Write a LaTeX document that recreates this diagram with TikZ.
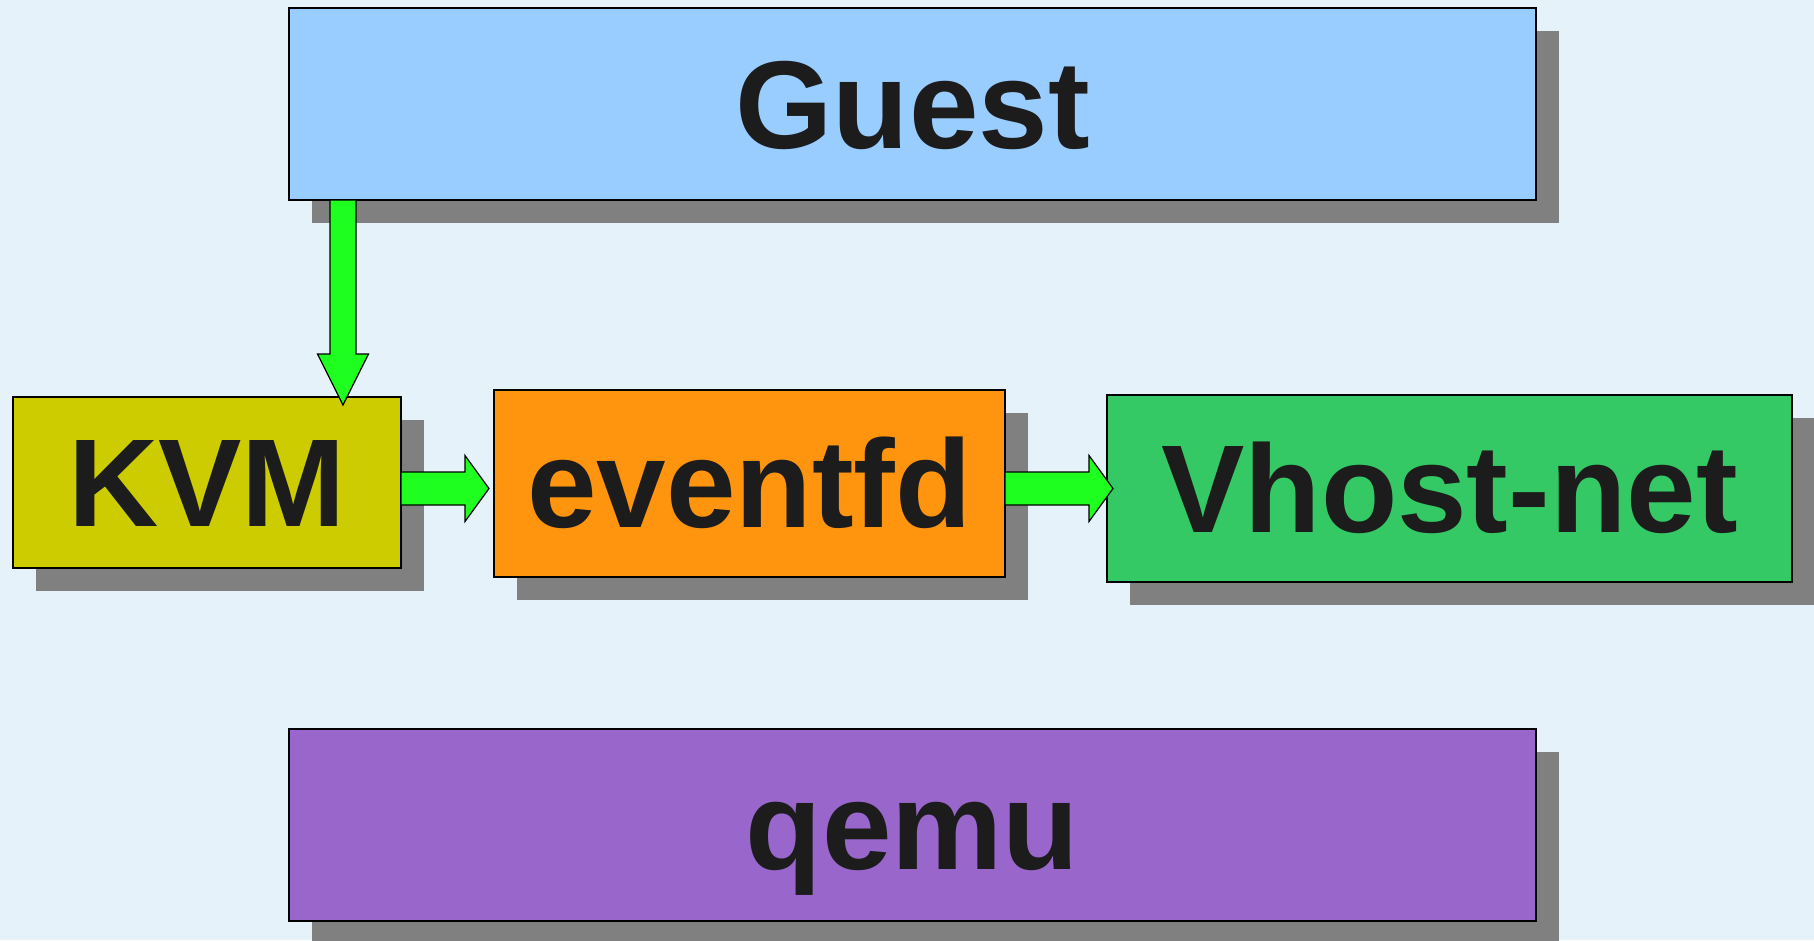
\documentclass[tikz,border=0pt]{standalone}
\usepackage{fontspec}
\setmainfont{Liberation Sans}
\usetikzlibrary{shadows,calc}

\definecolor{fond}{HTML}{E6F2FA}
\definecolor{ombre}{HTML}{808080}
\definecolor{texte}{HTML}{1C1C1C}
\definecolor{bleuguest}{HTML}{99CCFF}
\definecolor{jaunekvm}{HTML}{CCCC00}
\definecolor{orangefd}{HTML}{FF950E}
\definecolor{vertvhost}{HTML}{35C966}
\definecolor{violetqemu}{HTML}{9966CC}
\definecolor{vertfleche}{HTML}{1FFF1F}

\begin{document}
\begin{tikzpicture}
  [x=1pt, y=-1pt,
  boite/.style={
    draw=black,
    line width=1.2pt,
    rectangle,
    inner sep=0pt,
    outer sep=0pt,
    text=texte,
    text height=88pt,
    text depth=0pt,
    font=\fontsize{125}{150}\selectfont\bfseries,
    drop shadow={shadow xshift=23pt, shadow yshift=-23pt, opacity=1, fill=ombre, draw=none}},
  flechebas/.style={
    draw=black,
    line width=1.2pt,
    fill=vertfleche,
    to path={let \p1=(\tikztostart), \p2=(\tikztotarget) in
      (\x1-13pt,\y1) -- (\x1-13pt,\y2+51pt) -- (\x1-25.5pt,\y2+51pt) -- (\x1,\y2)
      -- (\x1+25.5pt,\y2+51pt) -- (\x1+13pt,\y2+51pt) -- (\x1+13pt,\y1) -- cycle}},
  flechedroite/.style={
    draw=black,
    line width=1.2pt,
    fill=vertfleche,
    to path={let \p1=(\tikztostart), \p2=(\tikztotarget) in
      (\x1,\y2+16.5pt) -- (\x2-24pt,\y2+16.5pt) -- (\x2-24pt,\y2+33pt) -- (\x2,\y2)
      -- (\x2-24pt,\y2-33pt) -- (\x2-24pt,\y2-16.5pt) -- (\x1,\y2-16.5pt) -- cycle}}]

  \fill [fond] (0,0) rectangle (1814,940);
  \useasboundingbox (0,0) rectangle (1814,940);

  \node [boite, fill=bleuguest, minimum width=1247pt, minimum height=192pt]
    at (912.5,104) (guest) {Guest};

  \node [boite, fill=jaunekvm, minimum width=388pt, minimum height=171pt]
    at (207,482.5) (kvm) {KVM};

  \node [boite, fill=orangefd, minimum width=511pt, minimum height=187pt]
    at (749.5,483.5) (eventfd) {eventfd};

  \node [boite, fill=vertvhost, minimum width=685pt, minimum height=187pt]
    at (1449.5,488.5) (vhost) {Vhost-net};

  \node [boite, fill=violetqemu, minimum width=1247pt, minimum height=192pt]
    at (912.5,825) (qemu) {qemu};

  \coordinate (descente) at ($(guest.south west)+(54,0)$);

  \draw [flechebas] (descente) to ($(kvm.north -| descente)+(0,8)$);
  \draw [flechedroite] (kvm.east |- vhost) to ($(eventfd.west |- vhost)+(-5,0)$);
  \draw [flechedroite] (eventfd.east |- vhost) to ($(vhost.west)+(6,0)$);
\end{tikzpicture}
\end{document}
